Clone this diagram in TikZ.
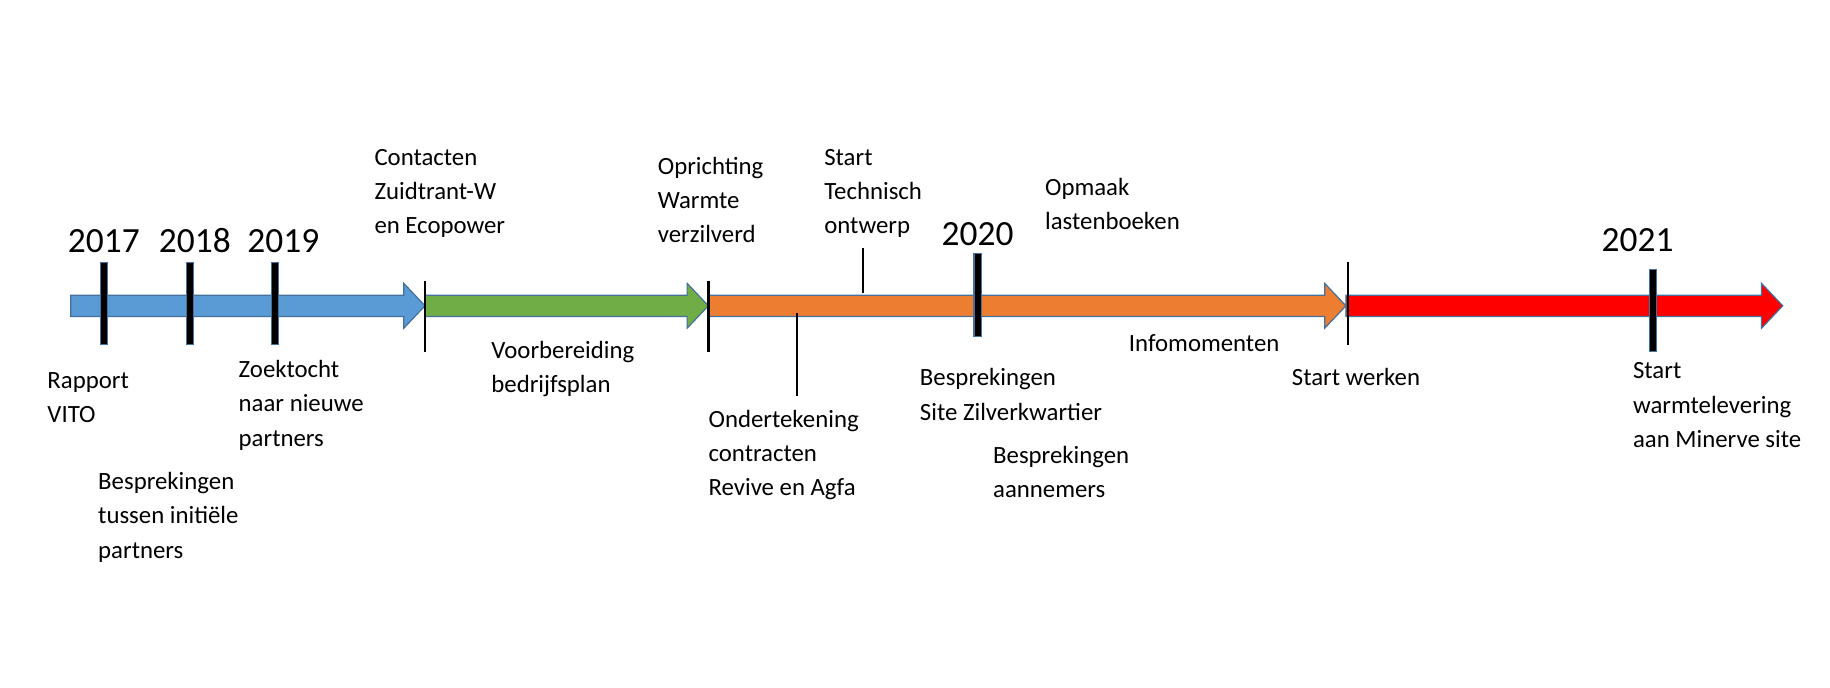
\documentclass[tikz,border=0pt]{standalone}
\usepackage{fontspec}
\setmainfont{Carlito}
\definecolor{tlblue}{HTML}{5B9BD5}
\definecolor{tlgreen}{HTML}{70AD47}
\definecolor{tlorange}{HTML}{ED7D31}
\definecolor{tlred}{HTML}{FF0000}
\definecolor{edge}{HTML}{41719C}
\tikzset{
  lbl/.style={anchor=north west, inner sep=0pt, align=left, font=\fontsize{21}{29}\selectfont},
  yr/.style={anchor=base, inner sep=0pt, font=\fontsize{30}{32}\selectfont},
  bar/.style={fill=black, draw=edge, line width=1pt},
  thin/.style={line width=2pt},
}
% one coloured piece of the time line: fill, start, tip
\newcommand{\segment}[3]{%
  \path[fill=#1, draw=edge, line width=1pt]
    (#2,250) -- (#3-18,250) -- (#3-18,240) -- (#3,259) -- (#3-18,278)
    -- (#3-18,268) -- (#2,268) -- cycle;}
\begin{document}
\begin{tikzpicture}[x=1pt, y=-1pt]
  \useasboundingbox (0,0) rectangle (1550,582);

  \segment{tlblue}{60}{360}
  \segment{tlgreen}{360}{600}
  \segment{tlorange}{600}{1140}
  \segment{tlred}{1140}{1510}

  % years
  \foreach \x/\yy in {88/222, 161/222, 233/222, 828/215, 1400/228}{
    \draw[bar] (\x-3,\yy) rectangle (\x+3,\yy+70);
  }
  \node[yr] (y17) at (88,214) {2017};
  \node[yr] (y18) at (165,214) {2018};
  \node[yr] (y19) at (240,214) {2019};
  \node[yr] (y20) at (828,208) {2020};
  \node[yr] (y21) at (1387,213) {2021};

  % thin marks
  \draw[thin] (360,238) -- (360,298);
  \draw[thin] (600,238) -- (600,298);
  \draw[thin] (675,265) -- (675,335);
  \draw[thin] (731,210) -- (731,248);
  \draw[thin] (1142,222) -- (1142,292);

  \node[lbl] (rapport) at (40,315) {Rapport\\VITO};
  \node[lbl] (bespr) at (83,400) {Besprekingen\\tussen initiële\\partners};
  \node[lbl] (zoek) at (202,305) {Zoektocht\\naar nieuwe\\partners};
  \node[lbl] (contact) at (317,126) {Contacten\\Zuidtrant-W\\en Ecopower};
  \node[lbl] (voorb) at (416,289) {Voorbereiding\\bedrijfsplan};
  \node[lbl] (opr) at (557,133) {Oprichting\\Warmte\\verzilverd};
  \node[lbl] (onder) at (600,347) {Ondertekening\\contracten\\Revive en Agfa};
  \node[lbl] (techn) at (698,126) {Start\\Technisch\\ontwerp};
  \node[lbl] (opmaak) at (885,151) {Opmaak\\lastenboeken};
  \node[lbl] (site) at (779,312) {Besprekingen\\Site Zilverkwartier};
  \node[lbl] (aann) at (841,378) {Besprekingen\\aannemers};
  \node[lbl] (info) at (956,283) {Infomomenten};
  \node[lbl] (werken) at (1094,312) {Start werken};
  \node[lbl] (lever) at (1383,307) {Start\\warmtelevering\\aan Minerve site};
\end{tikzpicture}
\end{document}
